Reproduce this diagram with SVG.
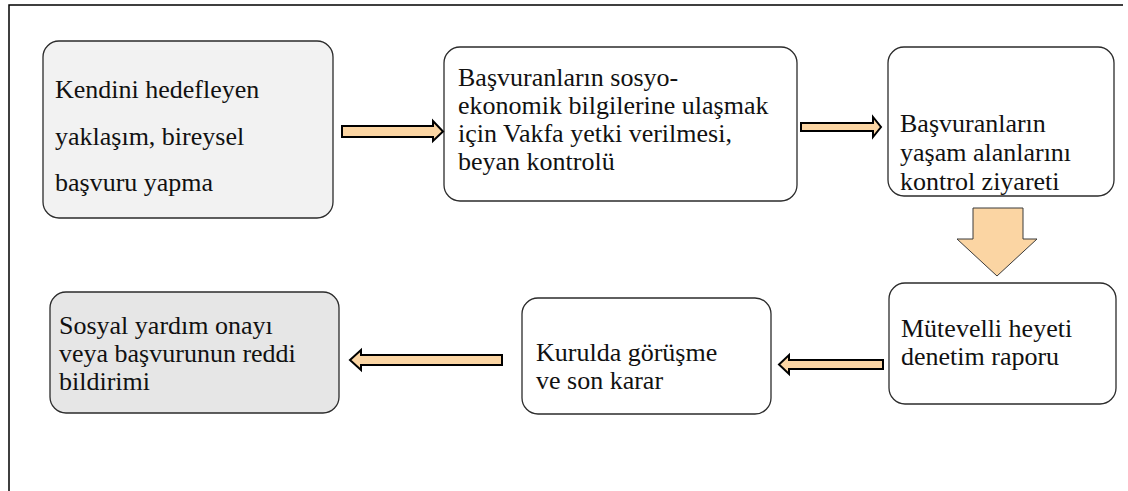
<svg xmlns="http://www.w3.org/2000/svg" width="1128" height="491" viewBox="0 0 1128 491">
<style>
.box{stroke:#2b2b2b;stroke-width:1.3}
.t{font-family:'Liberation Serif','Times New Roman',Tinos,'DejaVu Serif',serif;font-size:26px;fill:#111}
.arr{fill:#fbd5a3;stroke:#000;stroke-width:2;stroke-linejoin:miter}
.darr{fill:#fbd5a3;stroke:#3a3a3a;stroke-width:1}
</style>
<rect width="1128" height="491" fill="#fff"/>
<path d="M9,491 V5 H1123" fill="none" stroke="#000" stroke-width="1.5"/>
<g id="n1"><rect class="box" x="43" y="41" width="290" height="177" rx="16" fill="#f2f2f2"/>
<text class="t" x="55" y="98">Kendini hedefleyen</text>
<text class="t" x="55" y="145">yaklaşım, bireysel</text>
<text class="t" x="55" y="191">başvuru yapma</text></g>
<g id="n2"><rect class="box" x="444" y="47" width="353" height="154" rx="16" fill="#fff"/>
<text class="t" x="458" y="86">Başvuranların sosyo-</text>
<text class="t" x="458" y="114">ekonomik bilgilerine ulaşmak</text>
<text class="t" x="458" y="142">için Vakfa yetki verilmesi,</text>
<text class="t" x="458" y="170">beyan kontrolü</text></g>
<g id="n3"><rect class="box" x="888" y="47" width="226" height="149" rx="16" fill="#fff"/>
<text class="t" x="900" y="132">Başvuranların</text>
<text class="t" x="900" y="161">yaşam alanlarını</text>
<text class="t" x="900" y="190">kontrol ziyareti</text></g>
<g id="n4"><rect class="box" x="889" y="283" width="227" height="121" rx="16" fill="#fff"/>
<text class="t" x="901" y="337">Mütevelli heyeti</text>
<text class="t" x="901" y="365">denetim raporu</text></g>
<g id="n5"><rect class="box" x="522" y="298" width="249" height="116" rx="16" fill="#fff"/>
<text class="t" x="536" y="361">Kurulda görüşme</text>
<text class="t" x="536" y="389">ve son karar</text></g>
<g id="n6"><rect class="box" x="50" y="292" width="289" height="121" rx="16" fill="#e6e6e6"/>
<text class="t" x="59" y="334">Sosyal yardım onayı</text>
<text class="t" x="59" y="362">veya başvurunun reddi</text>
<text class="t" x="59" y="390">bildirimi</text></g>
<g id="connectors">
<polygon class="arr" points="342,126 433,126 433,121 443,131.5 433,141 433,137 342,137"/>
<polygon class="arr" points="801,123 873,123 873,117 881,127 873,137 873,131 801,131"/>
<polygon class="darr" points="973,208 1023,208 1023,239 1037,239 997,276 957,239 973,239"/>
<polygon class="arr" points="883,360 789,360 789,355 779,364.5 789,374 789,369 883,369"/>
<polygon class="arr" points="502,355 361,355 361,350 350,360 361,370 361,365 502,365"/>
</g>
</svg>
